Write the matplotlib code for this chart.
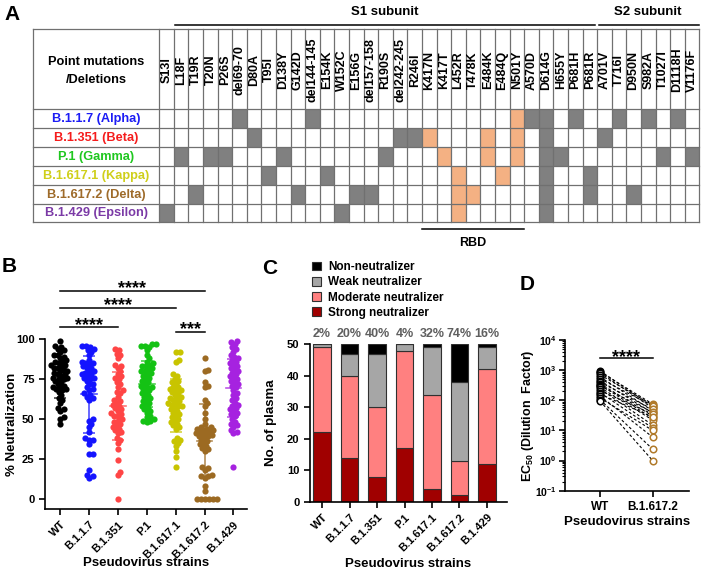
import numpy as np
import matplotlib
matplotlib.use("Agg")
import matplotlib.pyplot as plt
from matplotlib.patches import Rectangle

plt.rcParams['font.family'] = ['Liberation Sans', 'DejaVu Sans']
plt.rcParams['font.weight'] = 'bold'
plt.rcParams['axes.labelweight'] = 'bold'
plt.rcParams['axes.linewidth'] = 1.2
plt.rcParams['mathtext.fontset'] = 'custom'
plt.rcParams['mathtext.rm'] = 'Liberation Sans:bold'
plt.rcParams['mathtext.it'] = 'Liberation Sans:bold'
plt.rcParams['mathtext.bf'] = 'Liberation Sans:bold'
plt.rcParams['mathtext.default'] = 'regular'

# ---------------- data: panel A ----------------
mutations = ["S13I", "L18F", "T19R", "T20N", "P26S", "del69-70", "D80A", "T95I",
             "D138Y", "G142D", "del144-145", "E154K", "W152C", "E156G", "del157-158",
             "R190S", "del242-245", "R246I", "K417N", "K417T", "L452R", "T478K",
             "E484K", "E484Q", "N501Y", "A570D", "D614G", "H655Y", "P681H", "P681R",
             "A701V", "T716I", "D950N", "S982A", "T1027I", "D1118H", "V1176F"]
rbd_mutations = ["K417N", "K417T", "L452R", "T478K", "E484K", "E484Q", "N501Y"]
s1_last = "P681R"
variants = ["B.1.1.7 (Alpha)", "B.1.351 (Beta)", "P.1 (Gamma)",
            "B.1.617.1 (Kappa)", "B.1.617.2 (Delta)", "B.1.429 (Epsilon)"]
variant_colors = ["#1c1cf5", "#f51c1c", "#1fc71f", "#cfcf1a", "#9e6b2a", "#7b3aa6"]
variant_muts = [
    ["del69-70", "del144-145", "N501Y", "A570D", "D614G", "P681H", "T716I", "S982A", "D1118H"],
    ["D80A", "del242-245", "R246I", "K417N", "E484K", "N501Y", "D614G", "A701V"],
    ["L18F", "T20N", "P26S", "D138Y", "R190S", "K417T", "E484K", "N501Y", "D614G",
     "H655Y", "T1027I", "V1176F"],
    ["T95I", "E154K", "L452R", "E484Q", "D614G", "P681R"],
    ["T19R", "G142D", "E156G", "del157-158", "L452R", "T478K", "D614G", "P681R", "D950N"],
    ["S13I", "W152C", "L452R", "D614G"],
]

# ---------------- data: panel B ----------------
strains = ["WT", "B.1.1.7", "B.1.351", "P.1", "B.1.617.1", "B.1.617.2", "B.1.429"]
strain_colors = ["#000000", "#1414ff", "#ff4545", "#14c214", "#c8c400", "#9c6a22", "#a622e0"]
neut_wt = [99, 96, 95, 94, 93, 92, 90, 90, 89, 88, 87, 86, 86, 85, 84, 84, 83, 82, 82, 81,
           80, 80, 79, 78, 78, 77, 76, 76, 75, 75, 74, 73, 72, 71, 70, 70, 69, 69, 68, 67,
           65, 63, 62, 60, 57, 56, 55, 51, 50, 47]
neut_alpha = [96, 96, 95, 94, 93, 92, 90, 87, 86, 85, 85, 84, 83, 82, 82, 80, 80, 79, 78, 78,
              77, 76, 76, 75, 74, 72, 72, 70, 69, 68, 66, 65, 64, 63, 62, 50, 49, 47, 45, 42,
              38, 37, 37, 34, 28, 28, 18, 15, 14, 13]
neut_beta = [94, 93, 91, 90, 88, 84, 83, 82, 80, 78, 77, 76, 75, 73, 72, 70, 68, 67, 66, 64,
             62, 61, 60, 59, 58, 57, 56, 55, 54, 53, 52, 52, 50, 49, 48, 47, 46, 45, 44, 43,
             42, 41, 38, 37, 35, 31, 24, 17, 15, 0]
neut_gamma = [97, 97, 96, 96, 95, 93, 90, 88, 86, 85, 84, 83, 83, 82, 81, 80, 80, 79, 78, 77,
              76, 75, 74, 73, 72, 71, 70, 70, 69, 68, 67, 66, 65, 64, 63, 62, 61, 60, 59, 58,
              57, 56, 55, 54, 52, 51, 50, 49, 49, 48]
neut_kappa = [92, 92, 87, 86, 78, 77, 75, 74, 73, 72, 70, 70, 69, 68, 68, 67, 66, 65, 64, 63,
              63, 62, 61, 60, 60, 59, 58, 58, 57, 56, 55, 54, 53, 52, 51, 50, 49, 48, 47, 46,
              45, 44, 38, 37, 36, 35, 33, 30, 26, 20]
neut_delta = [88, 81, 80, 73, 71, 70, 62, 60, 58, 54, 50, 47, 45, 45, 44, 44, 43, 43, 42, 42,
              41, 41, 40, 40, 39, 39, 38, 37, 36, 35, 34, 33, 32, 31, 30, 20, 19, 18, 15, 14,
              13, 8, 5, 0, 0, 0, 0, 0, 0, 14]
neut_epsilon = [99, 98, 97, 95, 94, 92, 90, 89, 88, 87, 86, 85, 84, 83, 82, 81, 80, 79, 78, 77,
                76, 75, 74, 73, 72, 71, 70, 68, 66, 65, 63, 62, 60, 59, 58, 57, 56, 55, 54, 53,
                52, 50, 48, 47, 46, 45, 43, 42, 41, 20]
neut_all = [neut_wt, neut_alpha, neut_beta, neut_gamma, neut_kappa, neut_delta, neut_epsilon]

# ---------------- data: panel C ----------------
strong = [22, 14, 8, 17, 4, 2, 12]
moderate = [27, 26, 22, 31, 30, 11, 30]
weak = [1, 7, 17, 2, 15, 25, 7]
non_neut = [0, 3, 3, 0, 1, 12, 1]
pct_labels = ["2%", "20%", "40%", "4%", "32%", "74%", "16%"]

# ---------------- data: panel D ----------------
ec50_wt = [950, 880, 820, 700, 600, 520, 450, 400, 360, 330, 300, 270, 240, 210, 180,
           160, 140, 120, 105, 95]
ec50_delta = [62, 75, 55, 70, 45, 65, 38, 50, 30, 25, 40, 22, 15, 35, 12, 28, 6.0, 10,
              2.4, 1.0]

W, H = 701, 573
fig = plt.figure(figsize=(W / 100, H / 100), dpi=100)


def px_axes(left, top, right, bottom):
    return fig.add_axes([left / W, 1 - bottom / H, (right - left) / W, (bottom - top) / H])


# ================= panel A (table) =================
ax0 = fig.add_axes([0, 0, 1, 1])
ax0.set_xlim(0, W)
ax0.set_ylim(H, 0)
ax0.axis('off')

tx0, tlab, ty0, thead = 33, 159.3, 29.3, 109
colw = (699.3 - tlab) / len(mutations)
rowh = 18.9
tbottom = thead + rowh * len(variants)
grid_c = '#707070'

for r, (muts, vname, vcol) in enumerate(zip(variant_muts, variants, variant_colors)):
    y = thead + r * rowh
    for m in muts:
        c = mutations.index(m)
        fc = '#f4b183' if m in rbd_mutations else '#808080'
        ax0.add_patch(Rectangle((tlab + c * colw, y), colw, rowh, fc=fc, ec='none'))
    ax0.text((tx0 + tlab) / 2, y + rowh / 2 + 0.5, vname, color=vcol, fontsize=9.2,
             ha='center', va='center')

for i in range(len(variants) + 1):
    y = thead + i * rowh
    ax0.plot([tx0, tlab + colw * len(mutations)], [y, y], color=grid_c, lw=0.9)
ax0.plot([tx0, tlab + colw * len(mutations)], [ty0, ty0], color=grid_c, lw=0.9)
ax0.plot([tx0, tx0], [ty0, tbottom], color=grid_c, lw=0.9)
for c in range(len(mutations) + 1):
    x = tlab + c * colw
    ax0.plot([x, x], [ty0, tbottom], color=grid_c, lw=0.9)
for c, m in enumerate(mutations):
    ax0.text(tlab + (c + 0.5) * colw, 70, m, rotation=90, fontsize=9,
             ha='center', va='center')
ax0.text((tx0 + tlab) / 2, 62, "Point mutations", fontsize=9.2, ha='center', va='center')
ax0.text((tx0 + tlab) / 2, 80, "/Deletions", fontsize=9.2, ha='center', va='center')

s1_end = tlab + (mutations.index(s1_last) + 1) * colw
ax0.plot([175, s1_end - 2], [24.5, 24.5], color='k', lw=1.1)
ax0.text(385, 12, "S1 subunit", fontsize=9.5, ha='center', va='center')
ax0.plot([s1_end + 2, 699], [24.5, 24.5], color='k', lw=1.1)
ax0.text(648, 12, "S2 subunit", fontsize=9.5, ha='center', va='center')
rbd0 = tlab + mutations.index(rbd_mutations[0]) * colw
rbd1 = tlab + (mutations.index(rbd_mutations[-1]) + 1) * colw
ax0.plot([rbd0, rbd1], [229, 229], color='k', lw=1.1)
ax0.text((rbd0 + rbd1) / 2, 243, "RBD", fontsize=9, ha='center', va='center')

for lab, (lx, ly) in zip("ABCD", [(12, 15), (9, 266), (270, 269), (527, 285)]):
    ax0.text(lx, ly, lab, fontsize=15, ha='center', va='center')


def style(ax):
    for s in ['top', 'right']:
        ax.spines[s].set_visible(False)
    ax.tick_params(direction='out', length=4, width=1.2, labelsize=8)
    ax.patch.set_alpha(0)


def swarm(vals, d, yscale):
    placed = []
    offs = np.zeros(len(vals))
    for i in np.argsort(vals):
        y = vals[i] * yscale
        near = [(px, py) for px, py in placed if abs(py - y) < d]
        cands = [0.0]
        for px, py in near:
            dx = np.sqrt(d * d - (py - y) ** 2)
            cands += [px + dx, px - dx]
        cands.sort(key=abs)
        for c in cands:
            if all((c - px) ** 2 + (y - py) ** 2 >= d * d - 1e-6 for px, py in near):
                break
        placed.append((c, y))
        offs[i] = c
    return offs


# ================= panel B =================
axb = px_axes(45, 339.3, 247, 509)
style(axb)
axb.set_ylim(-6.5, 100)
axb.set_xlim(-0.52, 6.47)
for i, (vals, col) in enumerate(zip(neut_all, strain_colors)):
    vals = np.array(vals, dtype=float)
    offs = swarm(vals, 4.0, 1.594) / 28.9
    axb.scatter(i + offs, vals, s=20, color=col, lw=0, zorder=3, clip_on=False)
    m, sd = vals.mean(), vals.std(ddof=1)
    axb.plot([i - 0.27, i + 0.27], [m, m], color=col, lw=1.2, zorder=4, alpha=0.75)
    axb.errorbar(i, m, yerr=sd, color=col, capsize=4, lw=1.2, capthick=1.2, zorder=4,
                 alpha=0.75, fmt='none')
axb.set_yticks([0, 25, 50, 75, 100])
axb.set_xticks(range(len(strains)))
axb.set_xticklabels(strains, rotation=45, ha='right', rotation_mode='anchor', fontsize=8)
axb.set_ylabel("% Neutralization", fontsize=9.5)
axb.yaxis.set_label_coords(-0.135, 0.5)
axb.set_xlabel("Pseudovirus strains", fontsize=9.5)
axb.xaxis.set_label_coords(0.5, -0.28)
for (a, b, y) in [(0, 5, 130.5), (0, 4, 119.6), (0, 2, 107.5), (4, 5, 104.5)]:
    axb.plot([a, b], [y, y], color='k', lw=1.1, clip_on=False)
    stars = "***" if a == 4 else "****"
    axb.text((a + b) / 2, y - 1.5, stars, fontsize=13, ha='center', va='baseline',
             clip_on=False)

# ================= panel C =================
axc = px_axes(310, 344.3, 507, 501.7)
style(axc)
axc.set_ylim(0, 50)
axc.set_xlim(-0.44, 6.73)
xs = np.arange(len(strains))
bottom = np.zeros(len(strains))
layers = [(strong, '#a00000', "Strong neutralizer"),
          (moderate, '#ff8080', "Moderate neutralizer"),
          (weak, '#a6a6a6', "Weak neutralizer"),
          (non_neut, '#000000', "Non-neutralizer")]
handles = []
for vals, col, lab in layers:
    h = axc.bar(xs, vals, 0.65, bottom=bottom, color=col, edgecolor='#303030', lw=0.8,
                label=lab)
    handles.append(h)
    bottom += np.array(vals)
for i, p in enumerate(pct_labels):
    axc.text(i, 51.5, p, color='#5f5f5f', fontsize=9, ha='center', va='bottom',
             clip_on=False)
axc.set_yticks([0, 10, 20, 30, 40, 50])
axc.set_xticks(xs)
axc.set_xticklabels(strains, rotation=45, ha='right', rotation_mode='anchor', fontsize=8)
axc.set_ylabel("No. of plasma", fontsize=9.5)
axc.yaxis.set_label_coords(-0.165, 0.5)
axc.set_xlabel("Pseudovirus strains", fontsize=9.5)
axc.xaxis.set_label_coords(0.5, -0.355)
fig.legend(handles[::-1], [l[2] for l in layers[::-1]], loc='upper left',
           bbox_to_anchor=(312 / W, 1 - 261 / H), frameon=False, fontsize=8.5,
           handlelength=0.75, handleheight=0.75, labelspacing=0.28, handletextpad=0.6,
           borderpad=0, borderaxespad=0)

# ================= panel D =================
axd = px_axes(565, 340, 689, 490.7)
style(axd)
axd.set_yscale('log')
axd.set_ylim(0.1, 1e4)
axd.set_xlim(-0.664, 1.69)
axd.tick_params(which='minor', length=2, width=0.8)
axd.tick_params(axis='y', labelsize=7.5, pad=2)
for a, b in zip(ec50_wt, ec50_delta):
    axd.plot([0, 1], [a, b], color='k', lw=0.8, ls=(0, (2.5, 2)), zorder=2)
axd.scatter(np.zeros(len(ec50_wt)), ec50_wt, s=22, facecolor='white', edgecolor='k',
            lw=1.1, zorder=3)
axd.scatter(np.ones(len(ec50_delta)), ec50_delta, s=22, facecolor='white',
            edgecolor='#b07a2a', lw=1.1, zorder=3)
axd.set_yticks([0.1, 1, 10, 100, 1000, 10000])
axd.set_xticks([0, 1])
axd.set_xticklabels(["WT", "B.1.617.2"], fontsize=8.5)
axd.set_ylabel("EC$_{50}$ (Dilution  Factor)", fontsize=9)
axd.yaxis.set_label_coords(-0.235, 0.5)
axd.set_xlabel("Pseudovirus strains", fontsize=9.5)
axd.xaxis.set_label_coords(0.5, -0.165)
axd.plot([0, 1], [10 ** 3.41, 10 ** 3.41], color='k', lw=1.1, clip_on=False)
axd.text(0.5, 10 ** 3.27, "****", fontsize=13, ha='center', va='baseline', clip_on=False)

fig.savefig("out.png", dpi=100)
